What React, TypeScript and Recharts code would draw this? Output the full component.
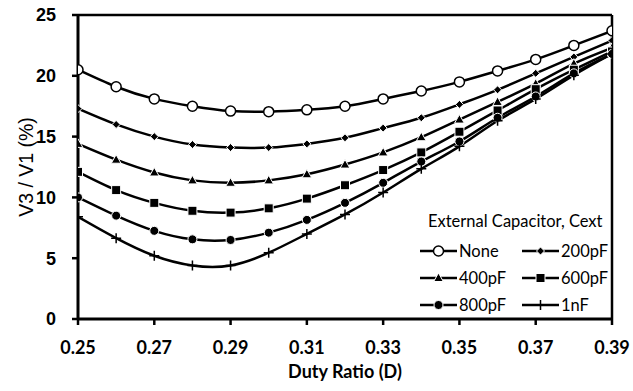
import React from 'react';
import { LineChart, Line, XAxis, YAxis, ReferenceLine, Legend } from 'recharts';

const dutyRatio = [0.25, 0.26, 0.27, 0.28, 0.29, 0.3, 0.31, 0.32, 0.33, 0.34, 0.35, 0.36, 0.37, 0.38, 0.39];
const noneValues = [20.5, 19.1, 18.1, 17.5, 17.1, 17.05, 17.2, 17.5, 18.1, 18.75, 19.5, 20.4, 21.35, 22.5, 23.7];
const pf200Values = [17.3, 16.0, 15.0, 14.35, 14.1, 14.1, 14.4, 14.9, 15.7, 16.55, 17.65, 18.85, 20.2, 21.55, 22.9];
const pf400Values = [14.4, 13.1, 12.05, 11.4, 11.2, 11.4, 11.9, 12.7, 13.7, 14.95, 16.4, 17.85, 19.35, 21.0, 22.3];
const pf600Values = [12.1, 10.6, 9.55, 8.9, 8.75, 9.1, 9.9, 11.0, 12.25, 13.7, 15.4, 17.15, 18.9, 20.5, 22.0];
const pf800Values = [10.0, 8.5, 7.25, 6.55, 6.5, 7.1, 8.15, 9.55, 11.2, 12.95, 14.6, 16.55, 18.3, 20.2, 21.8];
const nf1Values = [8.4, 6.65, 5.2, 4.4, 4.4, 5.45, 7.0, 8.6, 10.4, 12.35, 14.2, 16.3, 18.1, 20.05, 21.8];

const xTicks = [0.25, 0.27, 0.29, 0.31, 0.33, 0.35, 0.37, 0.39];
const yTicks = [0, 5, 10, 15, 20, 25];

const seriesNames = ['None', '200pF', '400pF', '600pF', '800pF', '1nF'];
const seriesKeys = ['none', 'pf200', 'pf400', 'pf600', 'pf800', 'nf1'];
const seriesMarkers = ['openCircle', 'diamond', 'triangle', 'square', 'filledCircle', 'plus'];

const data = dutyRatio.map((d, i) => ({
  d,
  none: noneValues[i],
  pf200: pf200Values[i],
  pf400: pf400Values[i],
  pf600: pf600Values[i],
  pf800: pf800Values[i],
  nf1: nf1Values[i],
}));

function Marker({ kind, cx, cy }: { kind: string; cx: number; cy: number }) {
  switch (kind) {
    case 'openCircle':
      return <circle cx={cx} cy={cy} r={5} fill="#fff" stroke="#000" strokeWidth={1.5} />;
    case 'diamond':
      return (
        <path
          d={`M${cx},${cy - 4}L${cx + 4},${cy}L${cx},${cy + 4}L${cx - 4},${cy}Z`}
          fill="#000"
          stroke="#fff"
          strokeWidth={1}
        />
      );
    case 'triangle':
      return (
        <path
          d={`M${cx},${cy - 5}L${cx + 4.8},${cy + 3.5}L${cx - 4.8},${cy + 3.5}Z`}
          fill="#000"
          stroke="#fff"
          strokeWidth={1}
        />
      );
    case 'square':
      return <rect x={cx - 4.5} y={cy - 4.5} width={9} height={9} fill="#000" stroke="#fff" strokeWidth={1} />;
    case 'filledCircle':
      return <circle cx={cx} cy={cy} r={4.5} fill="#000" stroke="#fff" strokeWidth={1} />;
    case 'plus':
      return (
        <path
          d={`M${cx - 5},${cy}H${cx + 5}M${cx},${cy - 5}V${cy + 5}`}
          stroke="#000"
          strokeWidth={1.5}
          fill="none"
        />
      );
    default:
      return null;
  }
}

const makeDot = (kind: string) => (props: any) => {
  const { cx, cy, index } = props;
  if (cx == null || cy == null) return <g key={`e-${index}`} />;
  return (
    <g key={`${kind}-${index}`}>
      <Marker kind={kind} cx={cx} cy={cy} />
    </g>
  );
};

const LegendContent = () => (
  <div style={{ fontFamily: 'Lato', fontSize: 16.5, color: '#000' }}>
    <div
      style={{
        whiteSpace: 'nowrap',
        lineHeight: '28px',
        marginBottom: 3,
        paddingLeft: 8,
        width: 183,
        overflow: 'hidden',
      }}
    >
      External Capacitor, Cext
    </div>
    <div style={{ display: 'grid', gridTemplateColumns: '102px 88px' }}>
      {seriesNames.map((name, i) => (
        <div key={name} style={{ display: 'flex', alignItems: 'center', height: 26.7, whiteSpace: 'nowrap' }}>
          <svg width={38} height={14} style={{ display: 'block' }}>
            <line x1={0} y1={7} x2={37} y2={7} stroke="#000" strokeWidth={2.5} />
            <Marker kind={seriesMarkers[i]} cx={18.5} cy={7} />
          </svg>
          <span style={{ marginLeft: 1 }}>{name}</span>
        </div>
      ))}
    </div>
  </div>
);

export default function App() {
  return (
    <div style={{ position: 'absolute', left: 0, top: 0, width: 633, height: 391, background: '#fff' }}>
      <LineChart width={633} height={391} data={data} margin={{ top: 15, right: 21, bottom: 0, left: 0 }}>
        <XAxis
          dataKey="d"
          type="number"
          domain={[0.25, 0.39]}
          ticks={xTicks}
          interval={0}
          allowDataOverflow
          tickFormatter={(v: number) => v.toFixed(2)}
          height={72}
          axisLine={{ stroke: '#000', strokeWidth: 3 }}
          tickLine={{ stroke: '#000', strokeWidth: 2.5 }}
          tickSize={6}
          tickMargin={16}
          tick={{ fill: '#000', fontFamily: 'Lato', fontWeight: 700, fontSize: 18 }}
          label={{
            value: 'Duty Ratio (D)',
            position: 'insideBottom',
            offset: 13,
            fill: '#000',
            style: { fontFamily: 'Lato', fontWeight: 700, fontSize: 18 },
          }}
        />
        <YAxis
          type="number"
          domain={[0, 25]}
          ticks={yTicks}
          interval={0}
          width={78}
          axisLine={{ stroke: '#000', strokeWidth: 3 }}
          tickLine={{ stroke: '#000', strokeWidth: 2.5 }}
          tickSize={6}
          tickMargin={16}
          tick={{ fill: '#000', fontFamily: 'Liberation Sans', fontWeight: 700, fontSize: 18 }}
          label={{
            value: 'V3 / V1  (%)',
            angle: -90,
            position: 'center',
            dx: -13,
            fill: '#000',
            style: { fontFamily: 'Liberation Sans', fontSize: 19.5, whiteSpace: 'pre' },
          }}
        />
        <ReferenceLine y={25} stroke="#000" strokeWidth={2.5} />
        <ReferenceLine x={0.39} stroke="#000" strokeWidth={2.5} />
        {seriesKeys.map((k, i) => (
          <Line
            key={k}
            type="natural"
            dataKey={k}
            name={seriesNames[i]}
            stroke="#000"
            strokeWidth={2.5}
            dot={makeDot(seriesMarkers[i])}
            activeDot={false}
            isAnimationActive={false}
          />
        ))}
        <Legend
          layout="vertical"
          align="center"
          verticalAlign="middle"
          content={<LegendContent />}
          wrapperStyle={{ position: 'absolute', left: 420, top: 207, width: 191, height: 120 }}
        />
      </LineChart>
    </div>
  );
}
